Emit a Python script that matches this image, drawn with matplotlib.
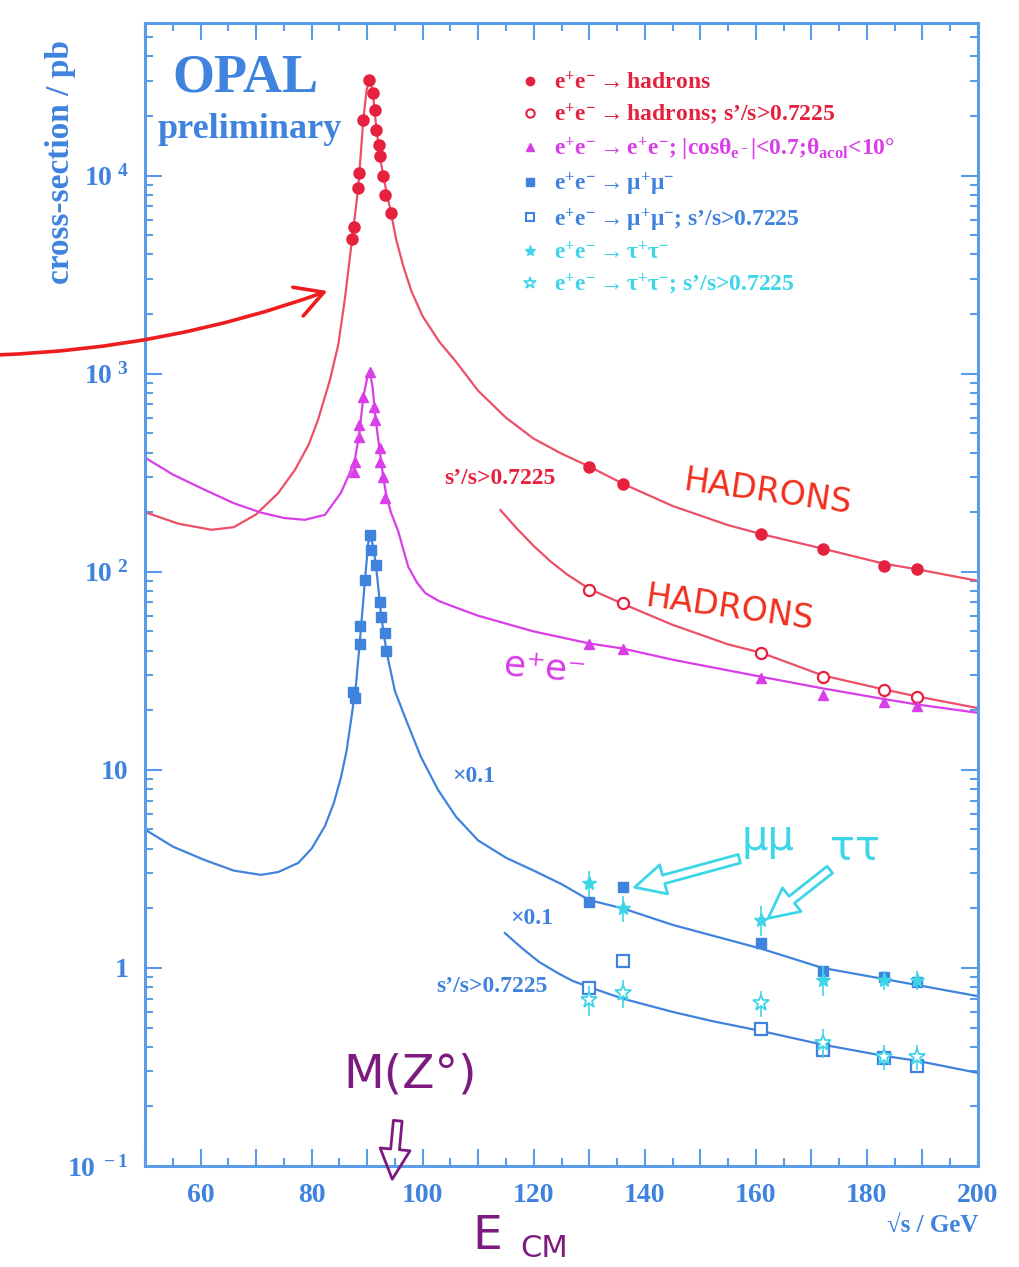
import numpy as np
import matplotlib.pyplot as plt
from matplotlib.lines import Line2D
from matplotlib.patches import FancyArrowPatch

plt.rcParams['font.family'] = ['Liberation Serif', 'DejaVu Serif']
plt.rcParams['font.weight'] = 'bold'
plt.rcParams['mathtext.fontset'] = 'custom'
plt.rcParams['mathtext.rm'] = 'Liberation Serif:bold'
plt.rcParams['mathtext.it'] = 'Liberation Serif:bold'
plt.rcParams['mathtext.bf'] = 'Liberation Serif:bold'

# ---- data ----
# e+e- -> hadrons
had_E   = [87.3, 87.7, 88.4, 88.6, 89.3, 90.4, 91.1, 91.4, 91.6, 92.1, 92.3, 92.9, 93.2, 94.3,
           130, 136, 161, 172, 183, 189]
had_sig = [4800, 5500, 8700, 10300, 19000, 30500, 26000, 21500, 17000, 14300, 12500, 10000, 8000, 6500,
           340, 279, 155, 131, 107, 103]
had_fit_E   = [50, 56, 62, 66, 70, 74, 77, 79.5, 81.2, 83.3, 84.8, 86.0, 87.3, 88.4, 89.3, 89.9, 90.4,
               91.0, 91.6, 92.3, 92.9, 93.6, 94.3, 95.2, 96.5, 98, 100, 103, 106, 110, 115, 120, 125,
               130, 136, 145, 155, 161, 172, 183, 189, 200]
had_fit_sig = [200, 175, 163, 168, 195, 250, 327, 440, 590, 930, 1400, 2400, 4800, 8700, 19000, 27000,
               30500, 27000, 18000, 12500, 10000, 8000, 6500, 4800, 3500, 2600, 1950, 1450, 1150, 820,
               600, 470, 395, 340, 279, 215, 172, 155, 131, 110, 103, 90]

# hadrons, s'/s > 0.7225
hadx_E   = [130, 136, 161, 172, 183, 189]
hadx_sig = [81, 69.5, 38.8, 29.4, 25.3, 23.3]
hadx_fit_E   = [114, 117, 120, 123, 126, 130, 136, 145, 155, 161, 172, 183, 189, 200]
hadx_fit_sig = [205, 165, 135, 113, 97, 82, 69, 54, 43, 39, 30, 25.5, 23.5, 20.5]

# e+e- -> e+e-
ee_E   = [87.6, 87.8, 88.6, 88.6, 89.3, 90.5, 91.3, 91.5, 92.3, 92.3, 92.9, 93.2,
          130, 136, 161, 172, 183, 189]
ee_sig = [320, 360, 480, 550, 766, 1020, 680, 585, 423, 360, 302, 237,
          43.3, 40.7, 29.0, 23.9, 22.1, 20.9]
ee_fit_E   = [50, 55, 60.8, 66, 70.9, 75, 78.8, 82.4, 85.3, 87.1, 87.8, 88.6, 89.3, 90.0, 90.5, 91.0,
              91.5, 92.3, 92.9, 93.5, 94.3, 95.6, 97.4, 99, 100.5, 103, 106, 110, 120, 130, 136, 145,
              161, 172, 183, 189, 200]
ee_fit_sig = [377, 310, 259, 222, 199, 187, 183, 194, 251, 327, 370, 500, 760, 950, 1020, 850,
              600, 400, 300, 240, 199, 160, 106, 88, 78, 71, 66, 60, 50, 43.5, 41, 36,
              29.5, 25.8, 22.8, 21.4, 19.4]

# e+e- -> mu+mu- (x0.1)
mm_E   = [87.5, 87.8, 88.7, 88.7, 89.6, 90.5, 90.7, 91.6, 92.3, 92.5, 93.2, 93.4,
          130, 136, 161, 172, 183, 189]
mm_sig = [24.8, 23, 43, 53, 91, 154, 129, 108, 70, 59, 49, 40,
          2.16, 2.57, 1.34, 0.96, 0.90, 0.85]
mm_fit_E   = [50, 55, 60.8, 66, 70.9, 74, 77.6, 80, 82.4, 84, 85.3, 86.3, 87.1, 88, 88.7, 89.6, 90.2,
              90.6, 91.2, 91.8, 92.4, 93.0, 93.8, 95, 96.8, 99.7, 102.8, 106, 110, 115, 120, 125,
              130, 136, 145, 161, 172, 183, 189, 200]
mm_fit_sig = [5.0, 4.1, 3.5, 3.1, 2.95, 3.05, 3.39, 4.0, 5.2, 6.8, 9.2, 12.5, 17.8, 27, 45, 90, 140,
              152, 130, 95, 65, 48, 36, 25, 18.5, 11.6, 7.9, 5.8, 4.4, 3.6, 3.1, 2.65,
              2.2, 2.0, 1.65, 1.25, 1.0, 0.88, 0.82, 0.72]

# mu+mu-, s'/s > 0.7225 (x0.1)
mmx_E   = [130, 136, 161, 172, 183, 189]
mmx_sig = [0.79, 1.08, 0.49, 0.386, 0.35, 0.318]
mmx_fit_E   = [114.8, 118, 121, 124.4, 127, 130, 136, 145, 152, 161, 172, 183, 189, 200]
mmx_fit_sig = [1.5, 1.25, 1.07, 0.94, 0.86, 0.8, 0.7, 0.6, 0.54, 0.48, 0.41, 0.36, 0.34, 0.295]

# tau+tau- (x0.1)
tt_E   = [130, 136, 161, 172, 183, 189]
tt_sig = [2.69, 2.0, 1.75, 0.87, 0.87, 0.87]
tt_err = [0.4, 0.3, 0.3, 0.15, 0.1, 0.1]
ttx_E   = [130, 136, 161, 172, 183, 189]
ttx_sig = [0.69, 0.75, 0.665, 0.42, 0.357, 0.357]
ttx_err = [0.12, 0.12, 0.1, 0.07, 0.05, 0.05]

# ---- colours ----
RED = '#e5213f'
RED_L = '#ec5068'
MAG = '#d93ee8'
BLUE = '#3f83de'
CYAN = '#3dd5e8'
AXC = '#5b9ce8'
HAND_R = '#f0301e'
PURP = '#7c1a80'

W, H = 1019, 1267
fig = plt.figure(figsize=(W / 100, H / 100), dpi=100)
ax = fig.add_axes([145 / W, 1 - 1166 / H, 833 / W, 1143 / H])


def fxy(x, y):
    # pixel position in the picture -> figure fraction
    return (x / W, 1 - y / H)


# fitted curves
ax.plot(had_fit_E, had_fit_sig, color=RED_L, lw=1.6)
ax.plot(hadx_fit_E, hadx_fit_sig, color=RED_L, lw=1.6)
ax.plot(ee_fit_E, ee_fit_sig, color=MAG, lw=1.6)
ax.plot(mm_fit_E, mm_fit_sig, color=BLUE, lw=1.6)
ax.plot(mmx_fit_E, mmx_fit_sig, color=BLUE, lw=1.6)

# measurements
ax.plot(had_E, had_sig, 'o', color=RED, ms=8)
ax.plot(hadx_E, hadx_sig, 'o', mfc='white', mec=RED, mew=1.6, ms=8)
ax.plot(ee_E, ee_sig, '^', color=MAG, ms=7)
ax.plot(mm_E, mm_sig, 's', color=BLUE, ms=7)
ax.plot(mmx_E, mmx_sig, 's', mfc='white', mec=BLUE, mew=1.6, ms=8)
ax.errorbar(tt_E, tt_sig, yerr=tt_err, fmt='*', color=CYAN, ms=10, elinewidth=1.2, capsize=0)
ax.errorbar(ttx_E, ttx_sig, yerr=ttx_err, fmt='*', mfc='white', mec=CYAN, ecolor=CYAN,
            mew=1.3, ms=12, elinewidth=1.2, capsize=0)

ax.set_yscale('log')
ax.set_xlim(50, 200)
ax.set_ylim(0.1, 5.9e4)

ax.set_xticks(np.arange(50, 201, 10))
ax.set_xticklabels(['' if v % 20 else str(v) for v in range(50, 201, 10)])
ax.set_xticks(np.arange(50, 201, 5), minor=True)
ax.set_yticks([0.1, 1, 10, 100, 1000, 10000])
ax.set_yticklabels([r'$10^{\ -1}$', '1', '10', r'$10^{\ 2}$', r'$10^{\ 3}$', r'$10^{\ 4}$'])

for s in ax.spines.values():
    s.set_color(AXC)
    s.set_linewidth(2.2)
ax.tick_params(which='both', direction='in', top=True, right=True, color=AXC,
               labelcolor=BLUE, labelsize=20, width=1.5)
ax.tick_params(which='major', length=12, pad=12)
ax.tick_params(which='minor', length=6)
for t in ax.get_xticklabels() + ax.get_yticklabels():
    t.set_fontweight('bold')

fig.text(*fxy(60, 162), 'cross-section / pb', rotation=90, ha='center', va='center',
         color=BLUE, fontsize=24, fontweight='bold')
fig.text(*fxy(978, 1225), '√s / GeV', ha='right', va='center', color=BLUE,
         fontsize=18, fontweight='bold')
fig.text(*fxy(245, 79), 'OPAL', ha='center', va='center', color=BLUE, fontsize=39, fontweight='bold')
fig.text(*fxy(250, 130), 'preliminary', ha='center', va='center', color=BLUE, fontsize=26,
         fontweight='bold')

# legend
handles = [
    Line2D([], [], ls='none', marker='o', color=RED, ms=6),
    Line2D([], [], ls='none', marker='o', mfc='white', mec=RED, mew=1.5, ms=6),
    Line2D([], [], ls='none', marker='^', color=MAG, ms=6),
    Line2D([], [], ls='none', marker='s', color=BLUE, ms=6),
    Line2D([], [], ls='none', marker='s', mfc='white', mec=BLUE, mew=1.5, ms=6),
    Line2D([], [], ls='none', marker='*', color=CYAN, ms=8),
    Line2D([], [], ls='none', marker='*', mfc='white', mec=CYAN, mew=1.2, ms=9),
]
ee = r'e^{+}e^{-}\rightarrow '
labels = [
    r'$\mathrm{' + ee + r'}$hadrons',
    r'$\mathrm{' + ee + r'}$hadrons; s’/s>0.7225',
    r'$\mathrm{' + ee + r'e^{+}e^{-}}$; |cos$\theta_{e^-}$|<0.7;$\theta_{acol}$<10°',
    r'$\mathrm{' + ee + r'\mu^{+}\mu^{-}}$',
    r'$\mathrm{' + ee + r'\mu^{+}\mu^{-}}$; s’/s>0.7225',
    r'$\mathrm{' + ee + r'\tau^{+}\tau^{-}}$',
    r'$\mathrm{' + ee + r'\tau^{+}\tau^{-}}$; s’/s>0.7225',
]
leg = ax.legend(handles, labels, loc='upper left', bbox_to_anchor=(0.44, 0.966), frameon=False,
                fontsize=17, handlelength=0.8, handletextpad=0.6, labelspacing=0.33,
                borderaxespad=0, labelcolor='markeredgecolor')
for t in leg.get_texts():
    t.set_fontweight('bold')

# in-plot labels
fig.text(*fxy(500, 478), 's’/s>0.7225', ha='center', va='center', color=RED, fontsize=17, fontweight='bold')
fig.text(*fxy(474, 776), '×0.1', ha='center', va='center', color=BLUE, fontsize=17, fontweight='bold')
fig.text(*fxy(532, 918), '×0.1', ha='center', va='center', color=BLUE, fontsize=17, fontweight='bold')
fig.text(*fxy(492, 986), 's’/s>0.7225', ha='center', va='center', color=BLUE, fontsize=17, fontweight='bold')

# hand-written notes
hand = dict(family='DejaVu Sans', fontweight='normal')
fig.text(*fxy(768, 492), 'HADRONS', ha='center', va='center', color=HAND_R, fontsize=24,
         rotation=-8, **hand)
fig.text(*fxy(730, 608), 'HADRONS', ha='center', va='center', color=HAND_R, fontsize=24,
         rotation=-8, **hand)
fig.text(*fxy(545, 668), 'e⁺e⁻', ha='center', va='center', color=MAG, fontsize=26, rotation=-5, **hand)
fig.text(*fxy(768, 838), 'μμ', ha='center', va='center', color=CYAN, fontsize=30, **hand)
fig.text(*fxy(855, 848), 'ττ', ha='center', va='center', color=CYAN, fontsize=30, **hand)
fig.text(*fxy(410, 1075), 'M(Z°)', ha='center', va='center', color=PURP, fontsize=34, **hand)
fig.text(*fxy(472, 1214), 'E', ha='left', va='top', color=PURP, fontsize=34, **hand)
fig.text(*fxy(520, 1234), 'CM', ha='left', va='top', color=PURP, fontsize=22, **hand)

hollow = 'simple,head_length=1.2,head_width=1.2,tail_width=0.35'
for (x0, y0), (x1, y1), c in [((742, 858), (632, 888), CYAN), ((832, 868), (766, 920), CYAN),
                              ((398, 1118), (392, 1182), PURP)]:
    fig.patches.append(FancyArrowPatch(fxy(x0, y0), fxy(x1, y1), transform=fig.transFigure,
                                       arrowstyle=hollow, mutation_scale=18, fc='none', ec=c, lw=2.0))
fig.patches.append(FancyArrowPatch(fxy(-5, 355), fxy(330, 290), transform=fig.transFigure,
                                   arrowstyle='->,head_length=0.9,head_width=0.5',
                                   connectionstyle='arc3,rad=0.08', mutation_scale=22,
                                   color='#ee1c1c', lw=2.6))

fig.savefig('out.png', dpi=100)
